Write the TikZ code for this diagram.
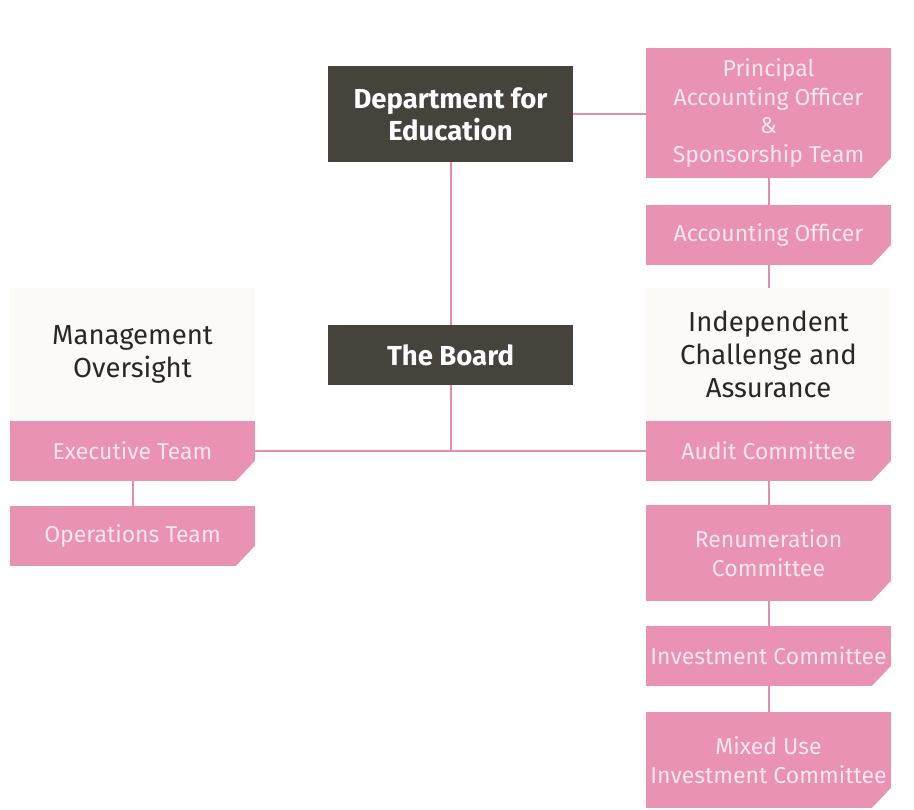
\documentclass[tikz,border=0pt]{standalone}
\usepackage{fontspec}
\setmainfont{Fira Sans}
\definecolor{pinkbox}{RGB}{234,146,180}
\definecolor{pinktext}{RGB}{252,230,238}
\definecolor{pinkline}{RGB}{228,140,175}
\definecolor{darkbox}{RGB}{70,66,60}
\definecolor{creambox}{RGB}{251,250,246}
\definecolor{creamtext}{RGB}{40,40,40}
\tikzset{
  pinkunit/.style={rectangle, fill=pinkbox, text=pinktext, inner sep=0pt,
    minimum width=245pt, align=center, font=\fontsize{23}{28.5}\selectfont,
    path picture={\fill[white] (path picture bounding box.south east)
      -- ++(-19pt,0) -- ++(19pt,20pt) -- cycle;}},
  darkunit/.style={rectangle, fill=darkbox, text=white, inner sep=0pt,
    minimum width=245pt, align=center, font=\fontsize{27.5}{32}\selectfont\bfseries},
  creamunit/.style={rectangle, fill=creambox, text=creamtext, inner sep=0pt,
    minimum width=245pt, minimum height=132pt, align=center,
    font=\fontsize{27.5}{33}\selectfont},
  link/.style={draw=pinkline, line width=2pt}
}
\begin{document}
\begin{tikzpicture}[x=1pt, y=-1pt]
\useasboundingbox (0,0) rectangle (914,810);
% top of the chain
\node[darkunit, minimum height=96pt] at (450.5, 114) (dfe) {Department for\\Education};
\node[darkunit, minimum height=60pt] at (450.5, 355) (board) {The Board};

% left column
\node[creamunit] at (132.5, 354) (mgmt) {Management\\Oversight};
\node[pinkunit, minimum height=60pt] at (132.5, 451) (exec) {Executive Team};
\node[pinkunit, minimum height=60pt] at (132.5, 536) (ops) {Operations Team};

% right column
\node[pinkunit, minimum height=130pt] at (768.5, 113) (pao) {Principal\\Accounting Officer\\\&\\Sponsorship Team};
\node[pinkunit, minimum height=60pt] at (768.5, 235) (ao) {Accounting Officer};
\node[creamunit] at (768.5, 354) (ica) {Independent\\Challenge and\\Assurance};
\node[pinkunit, minimum height=60pt] at (768.5, 451) (audit) {Audit Committee};
\node[pinkunit, minimum height=96pt] at (768.5, 553) (renum) {Renumeration\\Committee};
\node[pinkunit, minimum height=60pt] at (768.5, 656) (invest) {Investment Committee};
\node[pinkunit, minimum height=96pt] at (768.5, 760) (mixed) {Mixed Use\\Investment Committee};

\coordinate (join) at (board.south |- exec.east);

\path [link]
    (dfe) -- (board)
    (dfe.east) -- (dfe.east -| pao.west)
    (board.south) -- (join)
    (exec.east) -- (audit.west)
    (exec) -- (ops)
    (pao) -- (ao)
    (ao) -- (ica)
    (audit) -- (renum)
    (renum) -- (invest)
    (invest) -- (mixed);
\end{tikzpicture}
\end{document}
